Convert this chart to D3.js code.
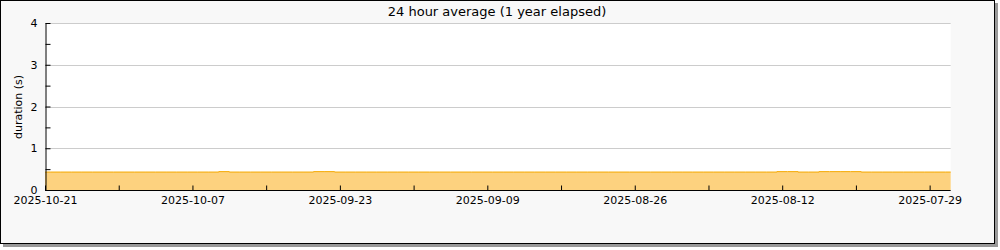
<!DOCTYPE html>
<html>
<head>
<meta charset="utf-8">
<script src="https://cdn.jsdelivr.net/npm/d3@7"></script>
<style>
  body { margin: 0; background: #fff; }
  svg { font-family: "DejaVu Sans", sans-serif; }
</style>
</head>
<body>
<svg id="chart" width="1000" height="250"></svg>
<script>
// 24時間平均のグラフ
var title = '24 hour average (1 year elapsed)';
var yLabel = 'duration (s)';
var startDate = '2025-10-21';   // left edge (newest)
var endDate = '2025-07-27';     // right edge (oldest)
// one value per day, newest first
var durations = [
  0.43, 0.43, 0.43, 0.43, 0.43, 0.43, 0.43, 0.43, 0.43, 0.43,
  0.43, 0.43, 0.43, 0.43, 0.43, 0.43, 0.43, 0.44, 0.43, 0.43,
  0.43, 0.43, 0.43, 0.43, 0.43, 0.43, 0.44, 0.44, 0.43, 0.43,
  0.43, 0.43, 0.43, 0.43, 0.43, 0.43, 0.43, 0.43, 0.43, 0.43,
  0.43, 0.43, 0.43, 0.43, 0.43, 0.43, 0.43, 0.43, 0.43, 0.43,
  0.43, 0.43, 0.43, 0.43, 0.43, 0.43, 0.43, 0.43, 0.43, 0.43,
  0.43, 0.43, 0.43, 0.43, 0.43, 0.43, 0.43, 0.43, 0.43, 0.43,
  0.44, 0.44, 0.43, 0.43, 0.44, 0.44, 0.44, 0.44, 0.43, 0.43,
  0.43, 0.43, 0.43, 0.43, 0.43, 0.43, 0.43
];
var yTicks = [0, 0.5, 1, 1.5, 2, 2.5, 3, 3.5, 4];
var yLabels = [0, 1, 2, 3, 4];

var parse = d3.utcParse('%Y-%m-%d');
var fmt = d3.utcFormat('%Y-%m-%d');
var t0 = parse(startDate);
var data = durations.map(function(v, i) {
  return { date: d3.utcDay.offset(t0, -i), value: v };
});

var svg = d3.select('svg#chart');
var plotLeft = 45, plotRight = 950.7, plotTop = 23, plotBottom = 190;

// frame + shadow
svg.append('rect').attr('x', 3).attr('y', 3).attr('width', 995).attr('height', 244).attr('fill', '#999');
svg.append('rect').attr('x', 0.5).attr('y', 0.5).attr('width', 994).attr('height', 243)
  .attr('fill', '#f8f8f8').attr('stroke', '#000');

svg.append('rect').attr('x', plotLeft).attr('y', plotTop)
  .attr('width', plotRight - plotLeft).attr('height', plotBottom - plotTop)
  .attr('fill', '#fff');

var x = d3.scaleUtc().domain([t0, parse(endDate)]).range([plotLeft, plotRight]);
var y = d3.scaleLinear().domain([0, 4]).range([plotBottom, plotTop]);

// grid
svg.append('g').selectAll('line').data(yLabels.slice(1)).enter().append('line')
  .attr('x1', plotLeft).attr('x2', plotRight)
  .attr('y1', function(d) { return Math.round(y(d)) + 0.5; })
  .attr('y2', function(d) { return Math.round(y(d)) + 0.5; })
  .attr('stroke', '#ccc');

// area + line
var area = d3.area().curve(d3.curveStep)
  .x(function(d) { return x(d.date); })
  .y0(plotBottom).y1(function(d) { return y(d.value); });
var line = d3.line().curve(d3.curveStep)
  .x(function(d) { return x(d.date); })
  .y(function(d) { return y(d.value); });
svg.append('path').datum(data).attr('d', area).attr('fill', '#fdd27f');
svg.append('path').datum(data).attr('d', line).attr('fill', 'none')
  .attr('stroke', '#f5a800').attr('stroke-width', 1);

// x axis
var xTicks = d3.range(0, 87, 7).map(function(i) { return d3.utcDay.offset(t0, -i); });
var xAxis = d3.axisBottom(x).tickValues(xTicks).tickSizeInner(-5).tickSizeOuter(0)
  .tickFormat(function(d, i) { return i % 2 === 0 ? fmt(d) : ''; });
var gx = svg.append('g').attr('transform', 'translate(0,' + (plotBottom + 0.5) + ')').call(xAxis);
gx.select('.domain').attr('d', 'M' + plotLeft + ',0H' + plotRight).attr('stroke', '#000');
gx.selectAll('.tick line').attr('stroke', '#000');
gx.selectAll('.tick text').attr('y', 6).attr('font-size', 11).attr('fill', '#000')
  .attr('font-family', 'DejaVu Sans');

// y axis
var yAxis = d3.axisLeft(y).tickValues(yTicks).tickSizeInner(-5).tickSizeOuter(0)
  .tickFormat(function(d) { return d % 1 === 0 ? d : ''; });
var gy = svg.append('g').attr('transform', 'translate(' + (plotLeft + 0.5) + ',0)').call(yAxis);
gy.select('.domain').attr('stroke', '#000');
gy.selectAll('.tick line').attr('stroke', '#000');
gy.selectAll('.tick text').attr('x', -8).attr('font-size', 11).attr('fill', '#000')
  .attr('font-family', 'DejaVu Sans');

svg.append('text').attr('transform', 'translate(22,107) rotate(-90)')
  .attr('text-anchor', 'middle').attr('font-size', 11).text(yLabel);

svg.append('text').attr('x', 497).attr('y', 16).attr('text-anchor', 'middle')
  .attr('font-size', 13).text(title);
</script>
</body>
</html>
